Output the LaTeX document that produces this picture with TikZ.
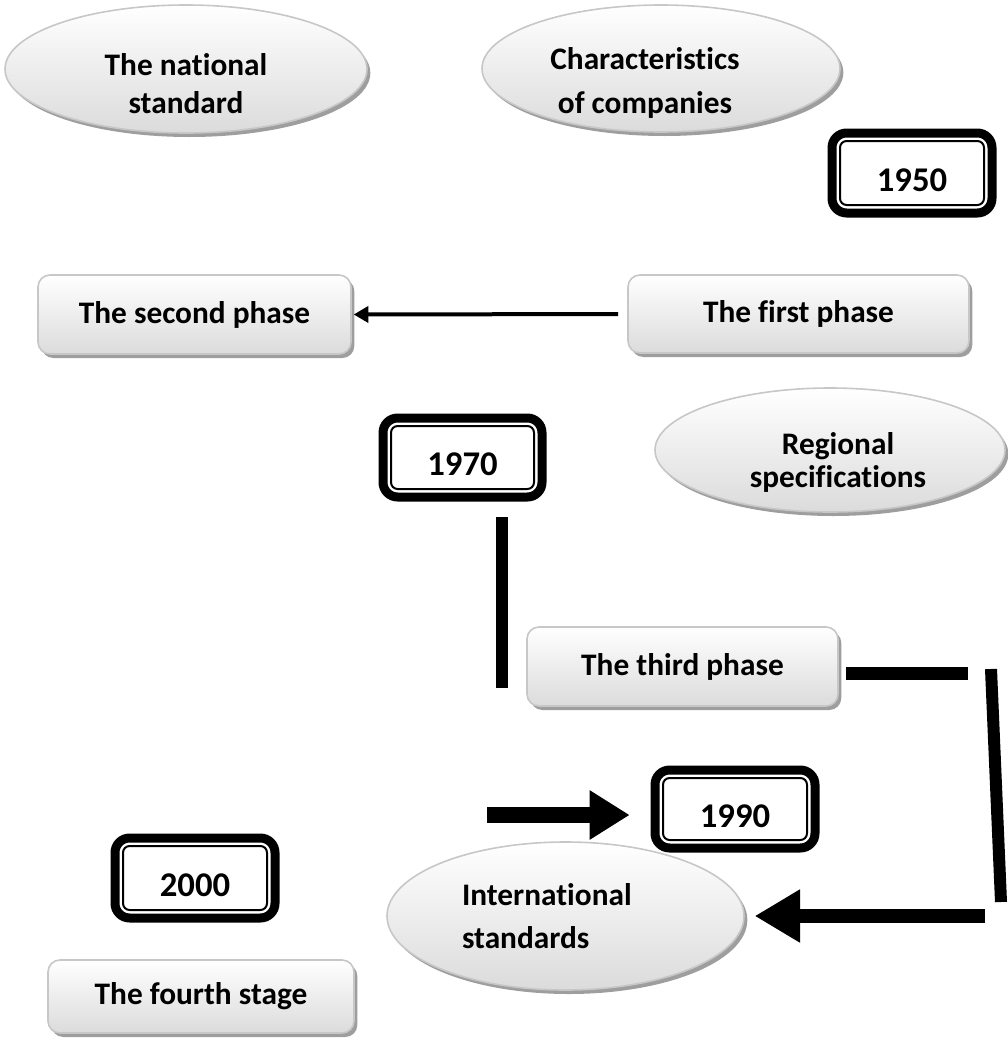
\documentclass[tikz,border=0pt]{standalone}
\usepackage{fontspec}
\setmainfont{Carlito}[Ligatures={NoCommon}]
\usetikzlibrary{shapes.geometric,shadows,arrows.meta}
\begin{document}
\begin{tikzpicture}[x=0.75pt,y=-0.75pt,
  every node/.style={font=\fontsize{23.5pt}{28pt}\selectfont\bfseries, inner sep=0pt, outer sep=0pt},
  gshadow/.style={drop shadow={shadow xshift=2.5pt, shadow yshift=-3pt, fill=black!38, opacity=1}},
  oval/.style={ellipse, draw=black!22, line width=1.2pt, top color=white, bottom color=black!14, gshadow},
  phasebox/.style={rectangle, rounded corners=9pt, draw=black!22, line width=1.2pt, top color=white, bottom color=black!14, gshadow},
  yearbox/.style={rectangle, rounded corners=11pt, draw=black, line width=6.75pt, fill=white,
    font=\fontsize{26pt}{30pt}\selectfont\bfseries, text height=27.5pt, text depth=0.5pt},
  innerline/.style={line width=1.5pt, rounded corners=5pt},
  txt/.style={anchor=base},
  bar/.style={line width=9pt},
  thinarrow/.style={line width=3pt, -{Triangle[length=11pt,width=12pt]}},
  bigarrow/.style={line width=12pt, -{Triangle[length=30pt,width=35pt]}}
]
\useasboundingbox (0,0) rectangle (1007,1039);

% ellipses
\node[oval, minimum width=271.5pt, minimum height=96pt] (e1) at (186,69) {};
\node[txt] (e1a) at (186,75) {The national};
\node[txt] (e1b) at (186,113) {standard};

\node[oval, minimum width=268.5pt, minimum height=95.25pt] (e2) at (661,68.5) {};
\node[txt] (e2a) at (645,69) {Characteristics};
\node[txt] (e2b) at (645,113) {of companies};

\node[oval, minimum width=262.5pt, minimum height=93pt] (e3) at (830,450) {};
\node[txt] (e3a) at (838,454) {Regional};
\node[txt] (e3b) at (838,487) {specifications};

\node[oval, minimum width=267.75pt, minimum height=111pt] (e4) at (565.5,916) {};
\node[anchor=base west] (e4a) at (462,905) {International};
\node[anchor=base west] (e4b) at (462,948) {standards};

% phase boxes
\node[phasebox, minimum width=234.75pt, minimum height=59.25pt] (p2) at (194.5,314.5) {The second phase};
\node[phasebox, minimum width=255.75pt, minimum height=58.5pt] (p1) at (798.5,314) {The first phase};
\node[phasebox, minimum width=233.25pt, minimum height=59.25pt] (p3) at (682.5,666.5) {The third phase};
\node[phasebox, minimum width=229.5pt, minimum height=54.75pt] (p4) at (201,996.5) {The fourth stage};

% year boxes
\node[yearbox, minimum width=120pt, minimum height=60pt] (b1950) at (912,173) {1950};
\node[yearbox, minimum width=119.25pt, minimum height=59.25pt] (b1970) at (462.5,457.5) {1970};
\node[yearbox, minimum width=120pt, minimum height=58.5pt] (b1990) at (735,809) {1990};
\node[yearbox, minimum width=120pt, minimum height=60pt] (b2000) at (195,878) {2000};
\foreach \b in {b1950,b1970,b1990,b2000}{
  \draw[innerline] ([shift={(6pt,-6pt)}]\b.north west) rectangle ([shift={(-6pt,6pt)}]\b.south east);
}

% connectors
\draw[thinarrow, shorten <=7.5pt, shorten >=2pt] (p1.west) -- (p2.east);

\coordinate (v1a) at (502,517);
\coordinate (v1b) at (502,688);
\draw[bar] (v1a) -- (v1b);

\coordinate (h1b) at (968,673);
\draw[line width=9.75pt, shorten <=6pt] (p3.east |- h1b) -- (h1b);

\coordinate (s1a) at (991,669);
\coordinate (s1b) at (1001,902);
\draw[bar] (s1a) -- (s1b);

\coordinate (a2s) at (985,916);
\draw[line width=11pt, -{Triangle[length=34pt,width=37.5pt]}, shorten >=8pt] (a2s) -- (e4.east);

\coordinate (a1s) at (487,815);
\draw[bigarrow, shorten >=19pt] (a1s) -- (a1s -| b1990.west);
\end{tikzpicture}
\end{document}
